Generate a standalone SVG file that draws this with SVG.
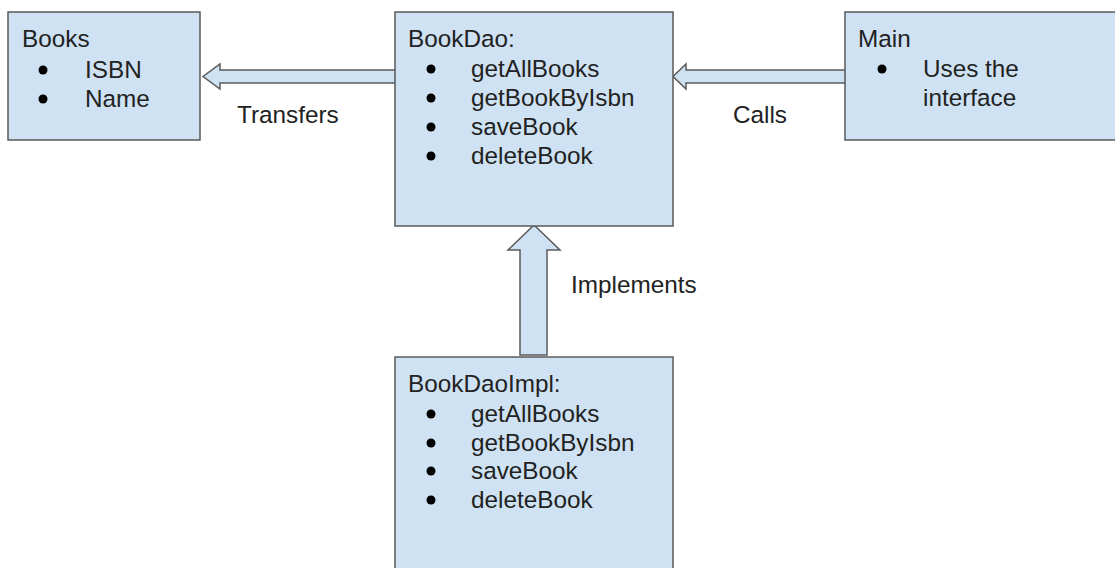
<svg xmlns="http://www.w3.org/2000/svg" width="1115" height="568" viewBox="0 0 1115 568">
<style>
.box{fill:#cfe2f3;stroke:#595959;stroke-width:1.5}
.arr{fill:#cfe2f3;stroke:#595959;stroke-width:1.5;stroke-linejoin:miter}
text{font-family:"Liberation Sans",Arial,sans-serif;font-size:24.3px;fill:#222}
.b{fill:#000}
</style>
<rect width="1115" height="568" fill="#fff"/>
<g id="connectors">
<path class="arr" d="M395,70 L220,70 L220,64 L203,76.5 L220,89 L220,83 L395,83"/>
<path class="arr" d="M845,70 L686,70 L686,64 L673,76.5 L686,89 L686,83 L845,83"/>
<path class="arr" d="M520,355 L520,250 L508,250 L534,225 L560,250 L547,250 L547,355 Z"/>
<text x="237" y="123">Transfers</text>
<text x="733" y="123">Calls</text>
<text x="571" y="293">Implements</text>
</g>
<g id="books">
<rect class="box" x="8" y="12" width="192" height="128"/>
<text x="22" y="47">Books</text>
<circle class="b" cx="43" cy="70" r="4.5"/><text x="85" y="78">ISBN</text>
<circle class="b" cx="43" cy="99" r="4.5"/><text x="85" y="107">Name</text>
</g>
<g id="bookdao">
<rect class="box" x="395" y="12" width="278" height="214"/>
<text x="408" y="47">BookDao:</text>
<circle class="b" cx="431" cy="69" r="4.5"/><text x="471" y="77">getAllBooks</text>
<circle class="b" cx="431" cy="98" r="4.5"/><text x="471" y="106">getBookByIsbn</text>
<circle class="b" cx="431" cy="127" r="4.5"/><text x="471" y="135">saveBook</text>
<circle class="b" cx="431" cy="156" r="4.5"/><text x="471" y="164">deleteBook</text>
</g>
<g id="main">
<rect class="box" x="845" y="12" width="280" height="128"/>
<text x="858" y="47">Main</text>
<circle class="b" cx="882" cy="69" r="4.5"/><text x="923" y="77">Uses the</text>
<text x="923" y="106">interface</text>
</g>
<g id="bookdaoimpl">
<rect class="box" x="395" y="357" width="278" height="220"/>
<text x="408" y="392">BookDaoImpl:</text>
<circle class="b" cx="431" cy="414" r="4.5"/><text x="471" y="422">getAllBooks</text>
<circle class="b" cx="431" cy="443" r="4.5"/><text x="471" y="451">getBookByIsbn</text>
<circle class="b" cx="431" cy="471" r="4.5"/><text x="471" y="479">saveBook</text>
<circle class="b" cx="431" cy="500" r="4.5"/><text x="471" y="508">deleteBook</text>
</g>
</svg>
